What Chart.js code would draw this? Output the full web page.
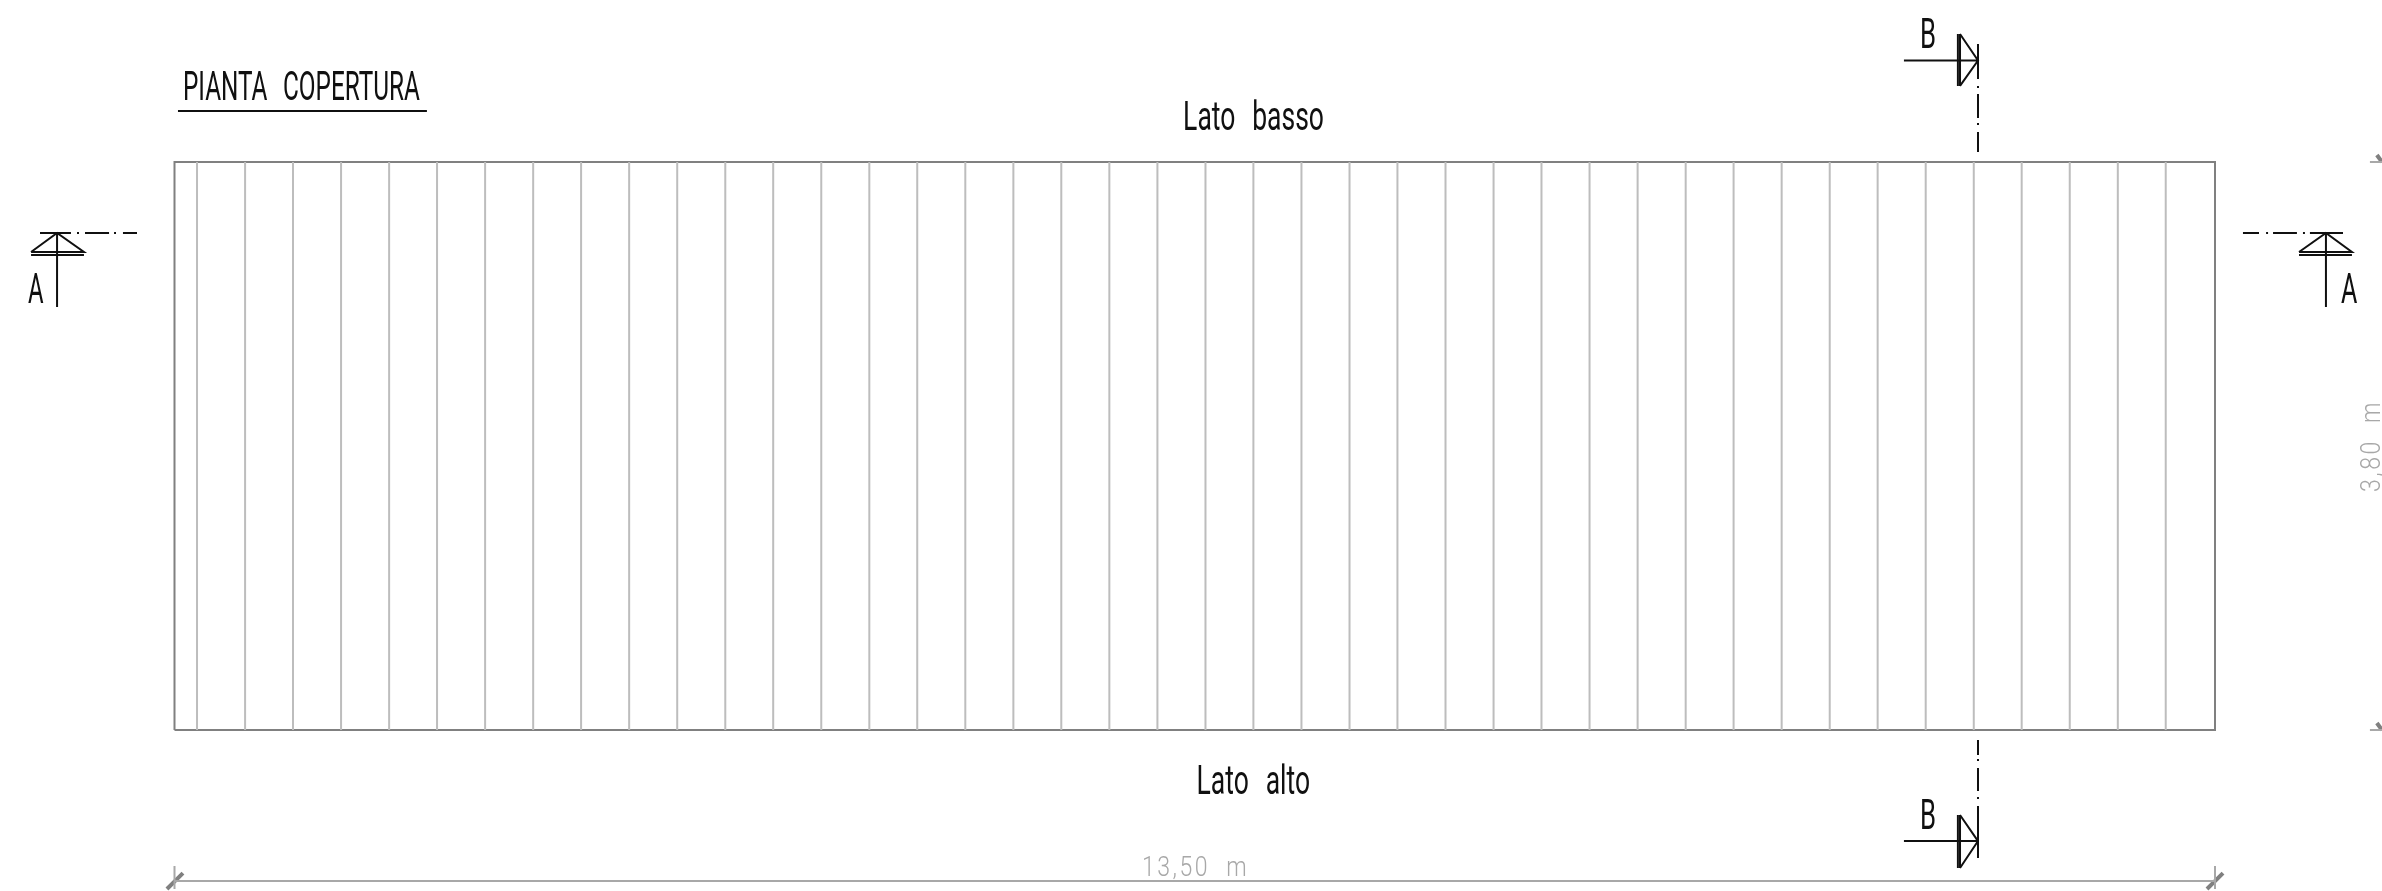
<!DOCTYPE html>
<html lang="it"><head><meta charset="utf-8"><title>Pianta copertura</title>
<style>html,body{margin:0;padding:0;background:#fff}canvas{display:block}</style>
<script src="https://cdn.jsdelivr.net/npm/chart.js@4"></script></head>
<body><canvas id="c" width="2382" height="891"></canvas>
<script>
// Roof plan, all values in metres
const roofWidth = 13.5;
const roofDepth = 3.8;
const ribPositions = [0.149,0.467,0.784,1.102,1.420,1.737,2.055,2.373,2.690,3.008,3.326,3.644,3.961,4.279,4.597,4.914,5.232,5.550,5.867,6.185,6.503,6.821,7.138,7.456,7.774,8.091,8.409,8.727,9.044,9.362,9.680,9.998,10.315,10.633,10.951,11.268,11.586,11.904,12.221,12.539,12.857,13.174];
const roofOutline = [[0,0],[13.5,0],[13.5,3.8],[0,3.8],[0,0]];
const sectionAWest = [
 [[-0.890,3.325],[-0.685,3.325]],[[-0.645,3.325],[-0.632,3.325]],[[-0.592,3.325],[-0.433,3.325]],[[-0.400,3.325],[-0.387,3.325]],[[-0.341,3.325],[-0.248,3.325]],
 [[-0.949,3.198],[-0.777,3.325],[-0.599,3.198],[-0.949,3.198]],[[-0.949,3.178],[-0.599,3.178]],[[-0.777,3.325],[-0.777,2.830]]];
const sectionAEast = [
 [[13.685,3.325],[13.791,3.325]],[[13.838,3.325],[13.851,3.325]],[[13.884,3.325],[14.042,3.325]],[[14.082,3.325],[14.095,3.325]],[[14.128,3.325],[14.347,3.325]],
 [[14.056,3.198],[14.234,3.325],[14.406,3.198],[14.056,3.198]],[[14.056,3.178],[14.406,3.178]],[[14.234,3.325],[14.234,2.830]]];
const sectionBNorth = [
 [[11.442,4.479],[11.932,4.479]],[[11.799,4.656],[11.799,4.309]],[[11.813,4.656],[11.813,4.309]],[[11.813,4.656],[11.932,4.479],[11.813,4.309]],
 [[11.932,4.590],[11.932,4.355]],[[11.932,4.309],[11.932,4.295]],[[11.932,4.255],[11.932,4.094]],[[11.932,4.061],[11.932,4.048]],[[11.932,4.001],[11.932,3.867]]];
const sectionBSouth = [
 [[11.442,-0.743],[11.932,-0.743]],[[11.799,-0.569],[11.799,-0.923]],[[11.813,-0.569],[11.813,-0.923]],[[11.813,-0.569],[11.932,-0.743],[11.813,-0.923]],
 [[11.932,-0.508],[11.932,-0.856]],[[11.932,-0.448],[11.932,-0.462]],[[11.932,-0.254],[11.932,-0.408]],[[11.932,-0.194],[11.932,-0.207]],[[11.932,-0.067],[11.932,-0.167]]];
const titleUnderline = [[[0.023,4.141],[1.670,4.141]]];
const dimensionLines = [[[0,-1.010],[13.5,-1.010]],[[0,-0.910],[0,-1.064]],[[13.5,-0.910],[13.5,-1.064]],[[14.525,3.8],[14.605,3.8]],[[14.525,0],[14.605,0]]];
const dimensionTicks = [[[-0.050,-1.064],[0.056,-0.957]],[[13.447,-1.064],[13.553,-0.957]],[[14.571,3.847],[14.605,3.8]],[[14.571,0.047],[14.605,0]]];
// texts: string, left, right, baseline (metres)
const labelTexts  = ["PIANTA COPERTURA","Lato basso","Lato alto","A","A","B","B"];
const labelLeft   = [0.056,6.673,6.762,-0.969,14.333,11.549,11.549];
const labelRight  = [1.624,7.605,7.513,-0.866,14.441,11.655,11.655];
const labelBase   = [4.213,4.014,-0.425,2.857,2.857,4.563,-0.662];
const dimTexts = ["13,50 m"];
const dimLeft  = [6.401];
const dimRight = [7.110];
const dimBase  = [-0.977];
const sideDimText = "3,80 m";
const sideDimBase = 14.59;
const sideDimBottom = 1.592;
const sideDimTop = 2.208;

function pts(a){return a.map(p=>({x:p[0],y:p[1]}));}
function joined(polys){const out=[];polys.forEach((p,i)=>{if(i)out.push({x:p[0][0],y:null});out.push(...pts(p));});return out;}
function ds(data,color,width){return {data,borderColor:color,borderWidth:width,pointRadius:0,clip:false,tension:0,spanGaps:false,fill:false,borderCapStyle:'butt',borderJoinStyle:'miter'};}

const INK='#101010', FRAME='#808080', RIB='#bdbdbd', DIM='#a8a8a8', TICK='#808080', TEXT='#101010', DIMTEXT='#a8a8a8';
const datasets=[
 ds(joined(ribPositions.map(x=>[[x,0],[x,roofDepth]])),RIB,2),
 ds(pts(roofOutline),FRAME,2),
 ds(joined(sectionAWest),INK,2),
 ds(joined(sectionAEast),INK,2),
 ds(joined(sectionBNorth),INK,2),
 ds(joined(sectionBSouth),INK,2),
 ds(joined(titleUnderline),INK,2),
 ds(joined(dimensionLines),DIM,2),
 ds(joined(dimensionTicks),TICK,4)
];

function fitText(ctx,str,left,right,base,size,color,wordGap,weight,tracking){
 ctx.save();
 ctx.font=weight+' '+size+'px Roboto';
 ctx.wordSpacing=wordGap+'px';
 ctx.letterSpacing=tracking+'px';
 ctx.fillStyle=color;ctx.textBaseline='alphabetic';ctx.textAlign='left';
 const w=ctx.measureText(str).width;
 ctx.translate(left,base);ctx.scale((right-left)/w,1);
 ctx.fillText(str,0,0);
 ctx.restore();
}
const drawingText={id:'drawingText',afterDatasetsDraw(ch){
 const c=ch.ctx,x=ch.scales.x,y=ch.scales.y;
 labelTexts.forEach((t,i)=>{
  const sz=t.length===1?43:41;
  fitText(c,t,x.getPixelForValue(labelLeft[i]),x.getPixelForValue(labelRight[i]),y.getPixelForValue(labelBase[i]),sz,TEXT,16,400,0);
 });
 dimTexts.forEach((t,i)=>fitText(c,t,x.getPixelForValue(dimLeft[i]),x.getPixelForValue(dimRight[i]),y.getPixelForValue(dimBase[i]),28,DIMTEXT,10,300,3));
 c.save();
 c.translate(x.getPixelForValue(sideDimBase),y.getPixelForValue(sideDimBottom));
 c.rotate(-Math.PI/2);
 fitText(c,sideDimText,0,y.getPixelForValue(sideDimBottom)-y.getPixelForValue(sideDimTop),0,28,DIMTEXT,10,300,3);
 c.restore();
}};

new Chart(document.getElementById('c'),{
 type:'line',
 data:{datasets},
 options:{
  responsive:false,animation:false,devicePixelRatio:1,parsing:true,
  layout:{padding:{left:174.5,right:167,top:162,bottom:161}},
  plugins:{legend:{display:false},tooltip:{enabled:false},title:{display:false}},
  scales:{
   x:{type:'linear',min:0,max:roofWidth,display:false},
   y:{type:'linear',min:0,max:roofDepth,display:false}
  }
 },
 plugins:[drawingText]
});
</script></body></html>
